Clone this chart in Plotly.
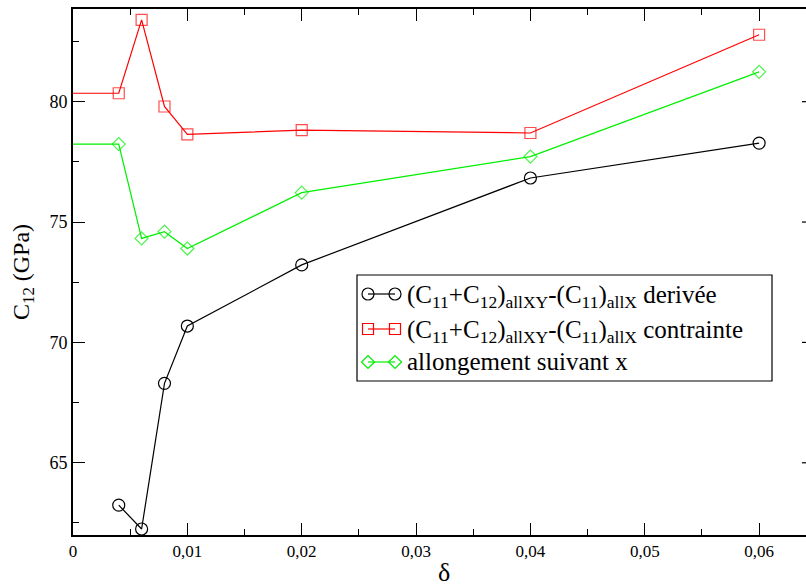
import plotly.graph_objects as go

# ---- data ----
x_full = [0.0, 0.004, 0.006, 0.008, 0.01, 0.02, 0.04, 0.06]
x_black = [0.004, 0.006, 0.008, 0.01, 0.02, 0.04, 0.06]
y_derivee = [63.24, 62.25, 68.30, 70.68, 73.22, 76.83, 78.28]
y_contrainte = [80.35, 80.35, 83.40, 79.80, 78.64, 78.82, 78.70, 82.78]
y_allongement = [78.24, 78.24, 74.32, 74.60, 73.90, 76.22, 77.72, 81.24]

x_tickvals = [0, 0.01, 0.02, 0.03, 0.04, 0.05, 0.06]
x_ticktext = ["0", "0,01", "0,02", "0,03", "0,04", "0,05", "0,06"]
y_tickvals = [65, 70, 75, 80]
y_ticktext = ["65", "70", "75", "80"]

names = [
    "(C<sub>11</sub>+C<sub>12</sub>)<sub>allXY</sub>-(C<sub>11</sub>)<sub>allX</sub> derivée",
    "(C<sub>11</sub>+C<sub>12</sub>)<sub>allXY</sub>-(C<sub>11</sub>)<sub>allX</sub> contrainte",
    "allongement suivant x",
]
colors = ["#000000", "#ff0000", "#00f000"]
symbols = ["circle-open", "square-open", "diamond-open"]
msizes = [12, 11, 10]

FONT = "Liberation Serif, Times New Roman, Times, serif"

fig = go.Figure()

fig.add_trace(go.Scatter(
    x=x_black, y=y_derivee, mode="lines+markers",
    line=dict(color=colors[0], width=1.2),
    marker=dict(symbol=symbols[0], size=msizes[0], color=colors[0], line=dict(width=1.2)),
    showlegend=False, cliponaxis=False))
fig.add_trace(go.Scatter(
    x=x_full, y=y_contrainte, mode="lines+markers",
    line=dict(color=colors[1], width=1.2),
    marker=dict(symbol=symbols[1], size=[0] + [msizes[1]] * 7, color=colors[1], line=dict(width=1.2)),
    showlegend=False, cliponaxis=False))
fig.add_trace(go.Scatter(
    x=x_full, y=y_allongement, mode="lines+markers",
    line=dict(color=colors[2], width=1.2),
    marker=dict(symbol=symbols[2], size=[0] + [msizes[2]] * 7, color=colors[2], line=dict(width=1.2)),
    showlegend=False, cliponaxis=False))

# ---- manual legend on a pixel-coordinate overlay axis ----
PX0, PX1, PY0, PY1 = 73, 806, 9, 535
row_y = [294, 329, 362]
for i in range(3):
    fig.add_trace(go.Scatter(
        x=[368, 395], y=[row_y[i], row_y[i]], mode="lines+markers",
        xaxis="x2", yaxis="y2",
        line=dict(color=colors[i], width=1.2),
        marker=dict(symbol=symbols[i], size=msizes[i], color=colors[i], line=dict(width=1.2)),
        showlegend=False, hoverinfo="skip", cliponaxis=False))

annotations = []
text_top = [279, 314, 346]
for i in range(3):
    annotations.append(dict(
        x=405, y=text_top[i], xref="x2", yref="y2", text=names[i],
        showarrow=False, xanchor="left", yanchor="top",
        font=dict(family=FONT, size=25, color="#000000")))

annotations.append(dict(
    x=(23 - PX0) / (PX1 - PX0), y=(PY1 - 272) / (PY1 - PY0), xref="paper", yref="paper",
    text="C<sub>12</sub> (GPa)", textangle=-90, showarrow=False,
    xanchor="center", yanchor="middle",
    font=dict(family=FONT, size=24, color="#000000")))
annotations.append(dict(
    x=(444 - PX0) / (PX1 - PX0), y=-(572 - PY1) / (PY1 - PY0), xref="paper", yref="paper",
    text="δ", showarrow=False, xanchor="center", yanchor="middle",
    font=dict(family=FONT, size=26, color="#000000")))

shapes = [dict(type="rect", xref="x2", yref="y2", x0=357, x1=772, y0=275, y1=381,
               line=dict(color="#000000", width=1.2), fillcolor="rgba(0,0,0,0)")]
# right-hand ticks peeking in at the edge
for v in y_tickvals:
    shapes.append(dict(type="line", xref="x2", yref="y", x0=802, x1=806, y0=v, y1=v,
                       line=dict(color="#000000", width=1.2)))

fig.update_layout(
    width=806, height=588,
    margin=dict(l=PX0, r=0, t=PY0, b=588 - PY1),
    paper_bgcolor="white", plot_bgcolor="white",
    font=dict(family=FONT, color="#000000"),
    showlegend=False,
    xaxis=dict(
        range=[0, 0.0641], tickvals=x_tickvals, ticktext=x_ticktext,
        ticks="inside", ticklen=12, tickwidth=1.2, tickcolor="#000000",
        minor=dict(ticks="inside", ticklen=6, tickwidth=1.2, tickcolor="#000000", dtick=0.005, tick0=0),
        showline=True, linecolor="#000000", linewidth=2, mirror="allticks",
        showgrid=False, zeroline=False,
        tickfont=dict(family=FONT, size=17, color="#000000"),
    ),
    yaxis=dict(
        range=[62.0, 83.85], tickvals=y_tickvals, ticktext=y_ticktext,
        ticks="inside", ticklen=12, tickwidth=1.2, tickcolor="#000000",
        minor=dict(ticks="inside", ticklen=6, tickwidth=1.2, tickcolor="#000000", dtick=2.5, tick0=60),
        showline=True, linecolor="#000000", linewidth=2,
        showgrid=False, zeroline=False,
        tickfont=dict(family=FONT, size=18, color="#000000"),
    ),
    xaxis2=dict(overlaying="x", range=[PX0, PX1], visible=False, fixedrange=True),
    yaxis2=dict(overlaying="y", range=[PY1, PY0], visible=False, fixedrange=True),
    annotations=annotations,
    shapes=shapes,
)

fig.write_html("out.html", config={"displayModeBar": False},
               post_script="document.body.style.margin='0';document.body.style.overflow='hidden';")
